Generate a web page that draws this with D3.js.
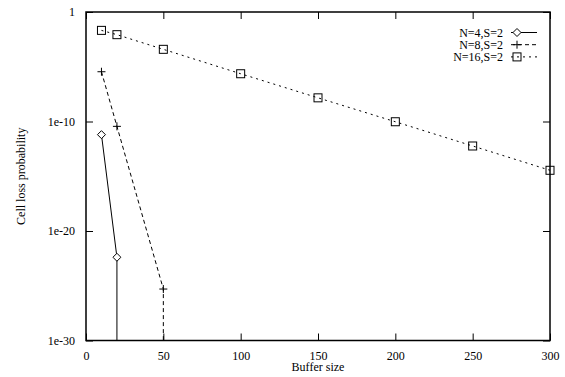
<!DOCTYPE html>
<html><head><meta charset="utf-8">
<script src="https://cdn.jsdelivr.net/npm/d3@7"></script>
<style>body{margin:0;background:#fff}svg{display:block}text{font-family:"Liberation Serif","Times New Roman",serif;font-size:12px;fill:#000}</style>
</head><body>
<script>
const buffer4 = [10, 20, 20];
const loss4 = [6.3e-12, 4e-23, 1e-40];
const buffer8 = [10, 20, 50, 50];
const loss8 = [3.5e-6, 3.6e-11, 5e-26, 1e-40];
const buffer16 = [10, 20, 50, 100, 150, 200, 250, 300];
const loss16 = [2.1e-2, 8.5e-3, 3.9e-4, 2.3e-6, 1.45e-8, 9.5e-11, 5.8e-13, 3.5e-15];
const seriesNames = ["N=4,S=2", "N=8,S=2", "N=16,S=2"];
const xTicks = [0, 50, 100, 150, 200, 250, 300];
const yTicks = [1, 1e-10, 1e-20, 1e-30];
const yTickLabels = ["1", "1e-10", "1e-20", "1e-30"];

const W = 565, H = 377;
const L = 86, R = 550, T = 12, B = 340.5;
const svg = d3.select("body").append("svg").attr("width", W).attr("height", H);
const x = d3.scaleLinear().domain([0, 300]).range([L, R]);
const y = d3.scaleLog().domain([1e-30, 1]).range([B, T]);

const defs = svg.append("defs");
defs.append("clipPath").attr("id", "clip").append("rect").attr("x", L).attr("y", T).attr("width", R - L).attr("height", B - T);

const series = [
  {name: seriesNames[0], xs: buffer4, ys: loss4, dash: null, marker: "diamond"},
  {name: seriesNames[1], xs: buffer8, ys: loss8, dash: "4,3", marker: "plus"},
  {name: seriesNames[2], xs: buffer16, ys: loss16, dash: "2,4", marker: "square"}
];

const tl = 7;
const axB = d3.axisBottom(x).tickValues(xTicks).tickSize(-tl).tickPadding(tl + 4).tickFormat(d3.format("d"));
const axT = d3.axisTop(x).tickValues(xTicks).tickSize(-tl).tickFormat("");
const axL = d3.axisLeft(y).tickValues(yTicks).tickSize(-tl).tickPadding(tl + 4).tickFormat((d, i) => yTickLabels[i]);
const axR = d3.axisRight(y).tickValues(yTicks).tickSize(-tl).tickFormat("");
function styleAxis(g) {
  g.select(".domain").remove();
  g.selectAll(".tick line").attr("stroke", "#000").attr("stroke-width", 1);
  g.selectAll(".tick text").style("font-family", '"Liberation Serif",serif').style("font-size", "12px").attr("fill", "#000");
}
svg.append("g").attr("transform", `translate(0,${B})`).call(axB).call(styleAxis);
svg.append("g").attr("transform", `translate(0,${T})`).call(axT).call(styleAxis);
svg.append("g").attr("transform", `translate(${L},0)`).call(axL).call(styleAxis);
svg.append("g").attr("transform", `translate(${R},0)`).call(axR).call(styleAxis);
svg.append("rect").attr("x", L).attr("y", T).attr("width", R - L).attr("height", B - T)
  .attr("fill", "none").attr("stroke", "#000").attr("stroke-width", 1.5);

const line = d3.line().x(d => x(d[0])).y(d => y(d[1]));
const plot = svg.append("g").attr("clip-path", "url(#clip)");

function drawMarker(g, type, cx, cy) {
  const s = 4;
  if (type === "diamond") {
    g.append("path").attr("d", `M${cx},${cy - s}L${cx + s},${cy}L${cx},${cy + s}L${cx - s},${cy}Z`)
      .attr("fill", "#fff").attr("stroke", "#000").attr("stroke-width", 1);
  } else if (type === "plus") {
    g.append("path").attr("d", `M${cx - s},${cy}H${cx + s}M${cx},${cy - s}V${cy + s}`)
      .attr("fill", "none").attr("stroke", "#000").attr("stroke-width", 1);
  } else {
    g.append("rect").attr("x", cx - s).attr("y", cy - s).attr("width", 2 * s).attr("height", 2 * s)
      .attr("fill", "none").attr("stroke", "#000").attr("stroke-width", 1);
  }
}

series.forEach(s => {
  const pts = s.xs.map((v, i) => [v, s.ys[i]]);
  const p = plot.append("path").attr("d", line(pts)).attr("fill", "none").attr("stroke", "#000").attr("stroke-width", 1);
  if (s.dash) p.attr("stroke-dasharray", s.dash);
  pts.forEach(d => { if (d[1] >= 1e-30) drawMarker(svg, s.marker, x(d[0]), y(d[1])); });
});

series.forEach((s, i) => {
  const ly = 32.5 + i * 12.2;
  svg.append("text").attr("x", 503).attr("y", ly + 4).attr("text-anchor", "end").text(s.name);
  const p = svg.append("line").attr("x1", 511).attr("x2", 537).attr("y1", ly).attr("y2", ly)
    .attr("stroke", "#000").attr("stroke-width", 1);
  if (s.dash) p.attr("stroke-dasharray", s.dash);
  drawMarker(svg, s.marker, 517, ly);
});

svg.append("text").attr("x", (L + R) / 2).attr("y", 371).attr("text-anchor", "middle").text("Buffer size");
svg.append("text").attr("transform", `translate(25,${(T + B) / 2}) rotate(-90)`).attr("text-anchor", "middle").text("Cell loss probability");
</script>
</body></html>
